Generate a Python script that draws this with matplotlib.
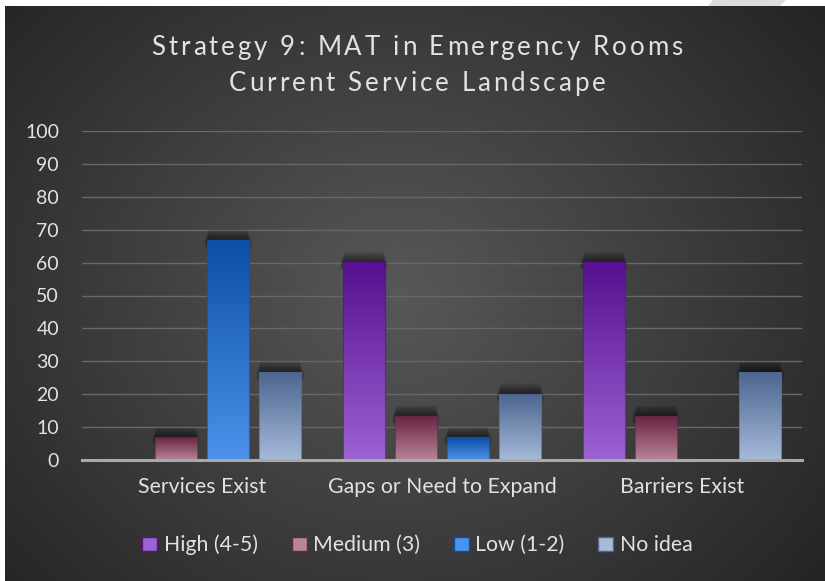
import numpy as np
import matplotlib
matplotlib.use("Agg")
import matplotlib.pyplot as plt
from matplotlib.colors import LinearSegmentedColormap
from matplotlib.patches import Rectangle, Polygon

# data
categories = ["Services Exist", "Gaps or Need to Expand", "Barriers Exist"]
series = ["High (4-5)", "Medium (3)", "Low (1-2)", "No idea"]
high = [0, 60, 60]
medium = [6.7, 13.3, 13.3]
low = [66.7, 6.7, 0]
no_idea = [26.7, 20, 26.7]
yticks = [0, 10, 20, 30, 40, 50, 60, 70, 80, 90, 100]
title_lines = ["Strategy 9: MAT in Emergency Rooms", "Current Service Landscape"]

# (top colour, bottom colour) per series
GRAD = [("#57108f", "#9d62d3"),
        ("#6a2443", "#b88499"),
        ("#0b4fa6", "#4d92ea"),
        ("#4d6590", "#a6bad9")]

TXT = "#e2e2e2"
FONT = "Lato"

W, H = 825, 581
fig = plt.figure(figsize=(W / 100, H / 100), dpi=100)
fig.patch.set_facecolor("white")

# background: dark radial gradient, inset by the white strip top/left
bg = fig.add_axes([5 / W, 0, 1 - 5 / W, 1 - 6 / H])
bg.set_axis_off()
yy, xx = np.mgrid[0:1:300j, 0:1:400j]
r = np.sqrt(((xx - 0.48) / 0.62) ** 2 + ((yy - 0.50) / 0.75) ** 2)
shade = np.clip(0.345 - 0.19 * r, 0.13, 0.36)
bg.imshow(np.dstack([shade] * 3), aspect="auto", extent=[0, 1, 0, 1])
# watermark sliver in the top strip
fig.patches.append(Polygon([[713 / W, 1], [786 / W, 1], [780 / W, 1 - 6 / H],
                            [708 / W, 1 - 6 / H]], closed=True,
                           transform=fig.transFigure, facecolor="#dcdcdc",
                           edgecolor="none"))

ax = fig.add_axes([82 / W, 1 - 460 / H, 720 / W, 329 / H])
ax.set_facecolor("none")

x = np.arange(len(categories))
width = 0.176
pitch = 0.217
values = [high, medium, low, no_idea]
grad = np.linspace(0, 1, 256).reshape(-1, 1)
for i, (vals, (c_top, c_bot)) in enumerate(zip(values, GRAD)):
    bars = ax.bar(x + (i - 1.5) * pitch, vals, width, color=c_bot,
                  zorder=3, label=series[i], linewidth=0)
    cmap = LinearSegmentedColormap.from_list("g%d" % i, [c_bot, c_top])
    for b in bars:
        h = b.get_height()
        if h <= 0:
            continue
        x0 = b.get_x()
        # soft blurred shadow rising above the bar top
        for k in range(14):
            e = 0.0013 * k
            ax.add_patch(Rectangle((x0 + 0.006 - e, h - 2), width - 0.012 + 2 * e,
                                   2 + 3.4 - 0.24 * k,
                                   facecolor="black", alpha=0.045,
                                   edgecolor="none", zorder=2))
        ax.imshow(grad, cmap=cmap, origin="lower", aspect="auto",
                  extent=[x0, x0 + width, 0, h], zorder=3.5)
        ax.add_patch(Rectangle((x0, 0), width, h, fill=False,
                               edgecolor=c_top, linewidth=0.8, alpha=0.6,
                               zorder=3.6))
ax.set_xlim(-0.5, 2.5)
ax.set_ylim(0, 100)

ax.set_yticks(yticks)
ax.set_xticks(x)
ax.set_xticklabels(categories)
ax.grid(axis="y", color="#686868", linewidth=1.0, zorder=1)
for s in ["top", "right", "left"]:
    ax.spines[s].set_visible(False)
ax.spines["bottom"].set_color("#a9a9a9")
ax.spines["bottom"].set_linewidth(2.2)
ax.spines["bottom"].set_zorder(4)
ax.tick_params(axis="both", length=0, colors=TXT)
ax.tick_params(axis="y", pad=16.5, labelsize=14)
ax.tick_params(axis="x", pad=12, labelsize=15.3)
for lab in ax.get_xticklabels() + ax.get_yticklabels():
    lab.set_fontfamily(FONT)

# title with letter spacing (drawn char by char)
renderer = fig.canvas.get_renderer()


def text_w(s, size):
    t = fig.text(0, 0, s + "l", fontsize=size, family=FONT)
    w = t.get_window_extent(renderer).width
    t.remove()
    t = fig.text(0, 0, "l", fontsize=size, family=FONT)
    w -= t.get_window_extent(renderer).width
    t.remove()
    return w


def spaced_title(s, cx, cy, size, spacing):
    total = text_w(s, size) + spacing * (len(s) - 1)
    left = cx - total / 2
    for k, ch in enumerate(s):
        if ch == " ":
            continue
        px = left + text_w(s[:k], size) + spacing * k
        fig.text(px / W, 1 - cy / H, ch, ha="left", va="baseline",
                 color=TXT, fontsize=size, family=FONT)


spaced_title(title_lines[0], 417, 55, 18.6, 3.0)
spaced_title(title_lines[1], 417, 91, 18.6, 3.0)

handles = [Rectangle((0, 0), 1, 1, facecolor=c_bot, edgecolor=c_top)
           for c_top, c_bot in GRAD]
leg = fig.legend(handles, series, loc="center", bbox_to_anchor=(0.506, 1 - 545 / H),
                 ncol=4, frameon=False, handlelength=0.7, handleheight=0.67,
                 handletextpad=0.3, columnspacing=1.6,
                 prop={"family": FONT, "size": 15.3})
for t in leg.get_texts():
    t.set_color(TXT)

fig.savefig("out.png", dpi=100)
